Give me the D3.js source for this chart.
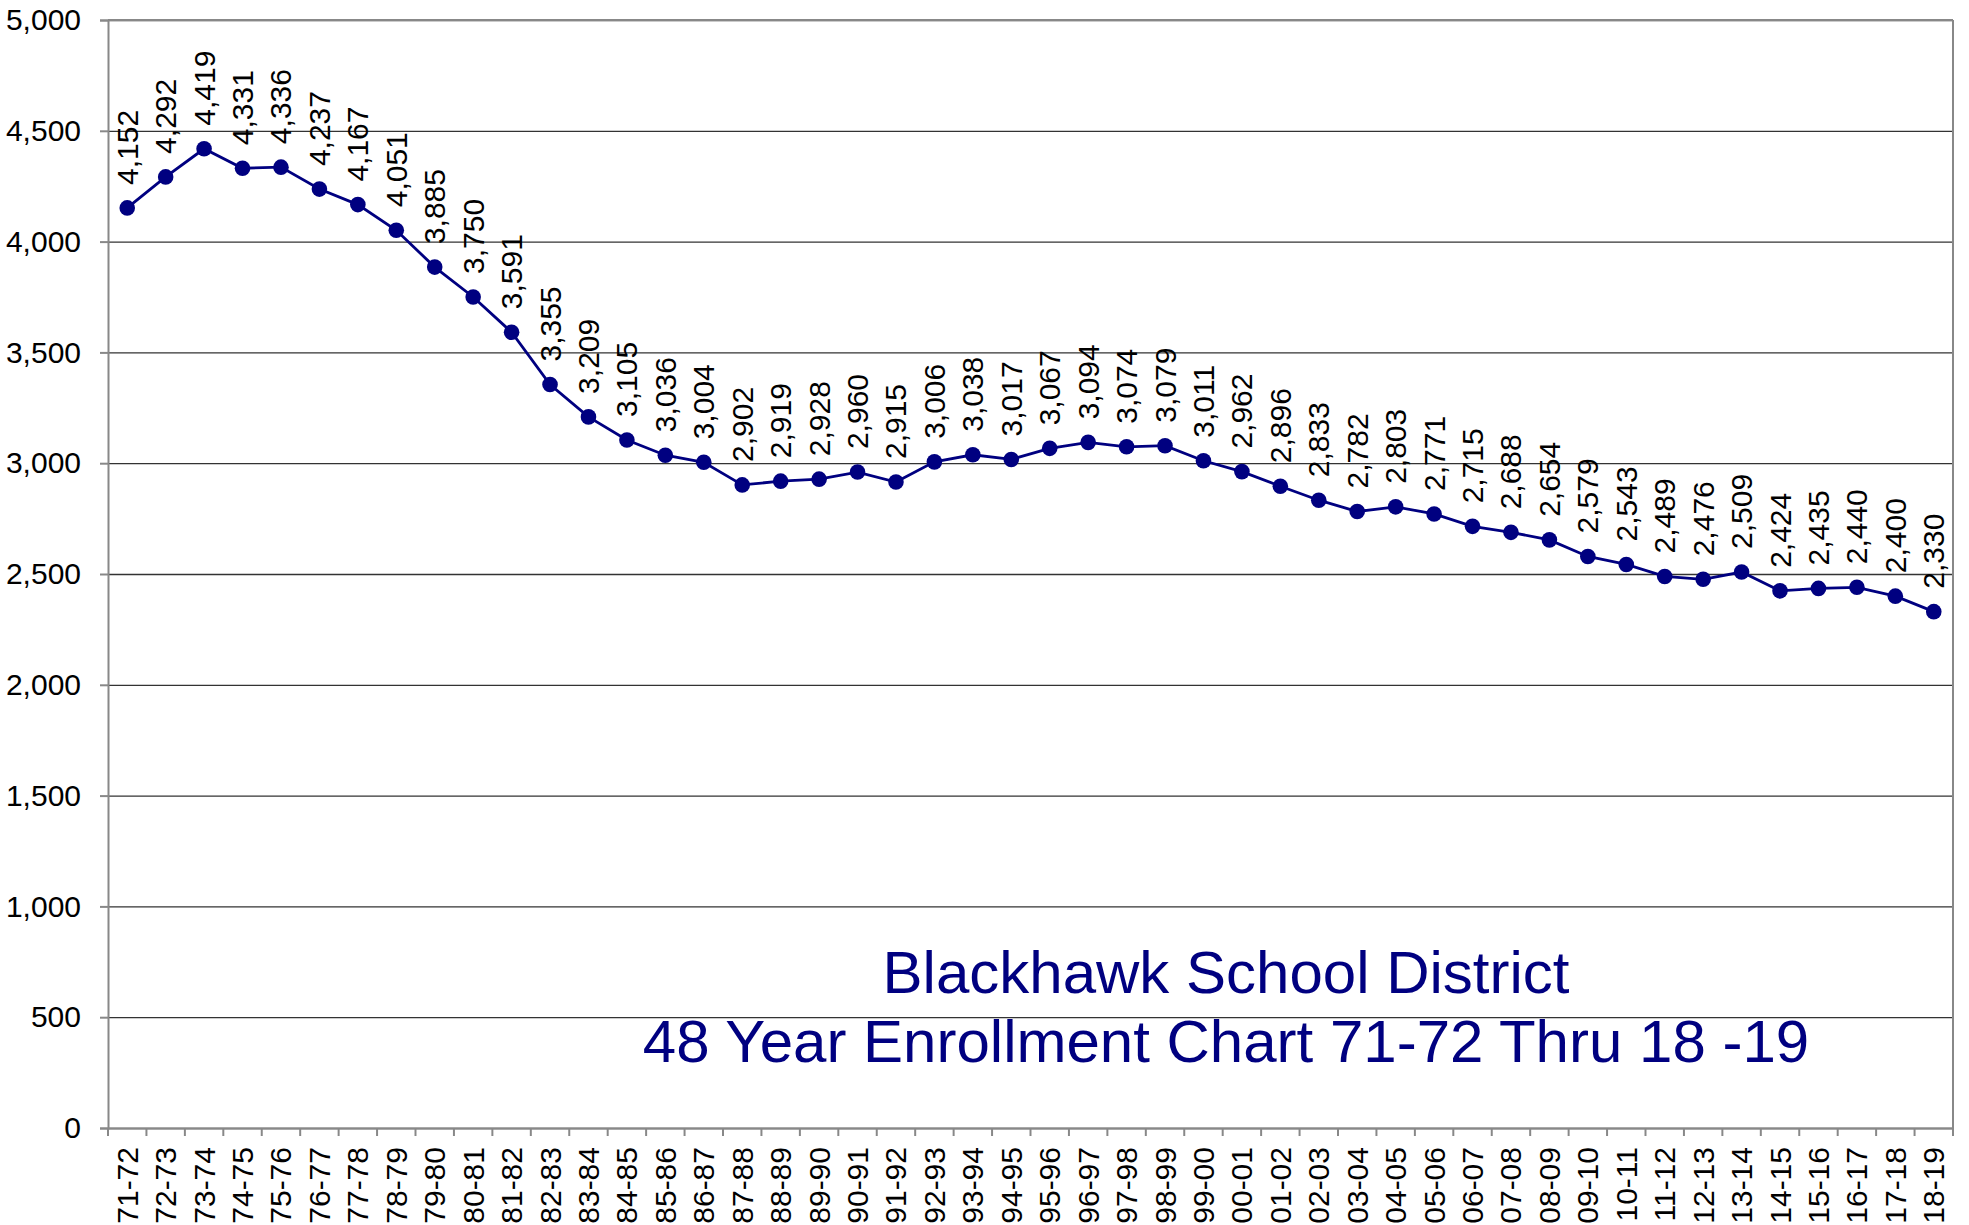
<!DOCTYPE html>
<html>
<head>
<meta charset="utf-8">
<script src="https://cdn.jsdelivr.net/npm/d3@7"></script>
<style>
  body { margin: 0; background: #fff; }
  text { font-family: "Liberation Sans", Arial, sans-serif; }
</style>
</head>
<body>
<div id="chart"></div>
<script>
// school years
var years = ["71-72","72-73","73-74","74-75","75-76","76-77","77-78","78-79","79-80","80-81",
             "81-82","82-83","83-84","84-85","85-86","86-87","87-88","88-89","89-90","90-91",
             "91-92","92-93","93-94","94-95","95-96","96-97","97-98","98-99","99-00","00-01",
             "01-02","02-03","03-04","04-05","05-06","06-07","07-08","08-09","09-10","10-11",
             "11-12","12-13","13-14","14-15","15-16","16-17","17-18","18-19"];

// enrollment per year
var enrollment = [4152,4292,4419,4331,4336,4237,4167,4051,3885,3750,
                  3591,3355,3209,3105,3036,3004,2902,2919,2928,2960,
                  2915,3006,3038,3017,3067,3094,3074,3079,3011,2962,
                  2896,2833,2782,2803,2771,2715,2688,2654,2579,2543,
                  2489,2476,2509,2424,2435,2440,2400,2330];

var yTicks = [0,500,1000,1500,2000,2500,3000,3500,4000,4500,5000];
var titleLines = ["Blackhawk School District", "48 Year Enrollment Chart 71-72 Thru 18 -19"];

var width = 1969, height = 1225;
var margin = {top: 20, right: 16, bottom: 97, left: 108};
var navy = "#000080";
var fs = 30;

var svg = d3.select("#chart").append("svg")
    .attr("width", width)
    .attr("height", height);

var x = d3.scaleBand()
    .domain(years)
    .range([margin.left, width - margin.right])
    .padding(0);

var y = d3.scaleLinear()
    .domain([0, 5000])
    .range([height - margin.bottom, margin.top]);

var fmt = d3.format(",");

// gridlines
svg.append("g")
    .attr("transform", `translate(${margin.left},0)`)
    .call(d3.axisLeft(y).tickValues(yTicks).tickSize(-(width - margin.left - margin.right)).tickFormat(""))
    .call(g => g.select(".domain").remove())
    .call(g => g.selectAll("line").attr("stroke", "#333").attr("stroke-width", 1.3));

// plot border (top / right)
svg.append("line")
    .attr("x1", margin.left).attr("x2", width - margin.right)
    .attr("y1", margin.top).attr("y2", margin.top)
    .attr("stroke", "#888").attr("stroke-width", 2);
svg.append("line")
    .attr("x1", width - margin.right).attr("x2", width - margin.right)
    .attr("y1", margin.top).attr("y2", height - margin.bottom)
    .attr("stroke", "#888").attr("stroke-width", 2);

// y axis
svg.append("g")
    .attr("transform", `translate(${margin.left},0)`)
    .call(d3.axisLeft(y).tickValues(yTicks).tickSize(8).tickPadding(19).tickFormat(fmt))
    .call(g => g.select(".domain").attr("stroke", "#888").attr("stroke-width", 2))
    .call(g => g.selectAll("line").attr("stroke", "#888").attr("stroke-width", 2))
    .call(g => g.selectAll("text").attr("font-size", fs).attr("fill", "#000")
        .attr("font-family", "Liberation Sans, Arial, sans-serif"));

// x axis (labels only, ticks drawn at category boundaries)
var xAxis = svg.append("g")
    .attr("transform", `translate(0,${height - margin.bottom})`)
    .call(d3.axisBottom(x).tickSize(0).tickSizeOuter(0))
    .call(g => g.select(".domain").attr("stroke", "#888").attr("stroke-width", 2))
    .call(g => g.selectAll("text")
        .attr("font-size", fs).attr("fill", "#000")
        .attr("font-family", "Liberation Sans, Arial, sans-serif")
        .attr("text-anchor", "end")
        .attr("transform", "rotate(-90)")
        .attr("x", -19).attr("y", 0).attr("dy", "0.35em"));

var bounds = years.map(d => x(d)).concat([x.range()[1]]);
xAxis.selectAll(".bound")
    .data(bounds)
    .enter().append("line")
    .attr("class", "bound")
    .attr("x1", d => d).attr("x2", d => d)
    .attr("y1", 0).attr("y2", 8)
    .attr("stroke", "#888").attr("stroke-width", 2);

// series
var pts = years.map((d, i) => ({year: d, value: enrollment[i]}));
var cx = d => x(d.year) + x.bandwidth() / 2;

svg.append("path")
    .datum(pts)
    .attr("fill", "none")
    .attr("stroke", navy)
    .attr("stroke-width", 2.8)
    .attr("d", d3.line().x(cx).y(d => y(d.value)));

svg.selectAll(".dot")
    .data(pts)
    .enter().append("circle")
    .attr("class", "dot")
    .attr("cx", cx)
    .attr("cy", d => y(d.value))
    .attr("r", 7.8)
    .attr("fill", navy);

// data labels
svg.selectAll(".lbl")
    .data(pts)
    .enter().append("text")
    .attr("class", "lbl")
    .attr("transform", d => `translate(${cx(d)},${y(d.value) - 23}) rotate(-90)`)
    .attr("dy", "0.35em")
    .attr("text-anchor", "start")
    .attr("font-size", fs)
    .attr("fill", "#000")
    .text(d => fmt(d.value));

// title inside plot
svg.selectAll(".title")
    .data(titleLines)
    .enter().append("text")
    .attr("class", "title")
    .attr("x", 1226)
    .attr("y", (d, i) => 993 + i * 69)
    .attr("text-anchor", "middle")
    .attr("font-size", 60)
    .attr("fill", navy)
    .text(d => d);
</script>
</body>
</html>
